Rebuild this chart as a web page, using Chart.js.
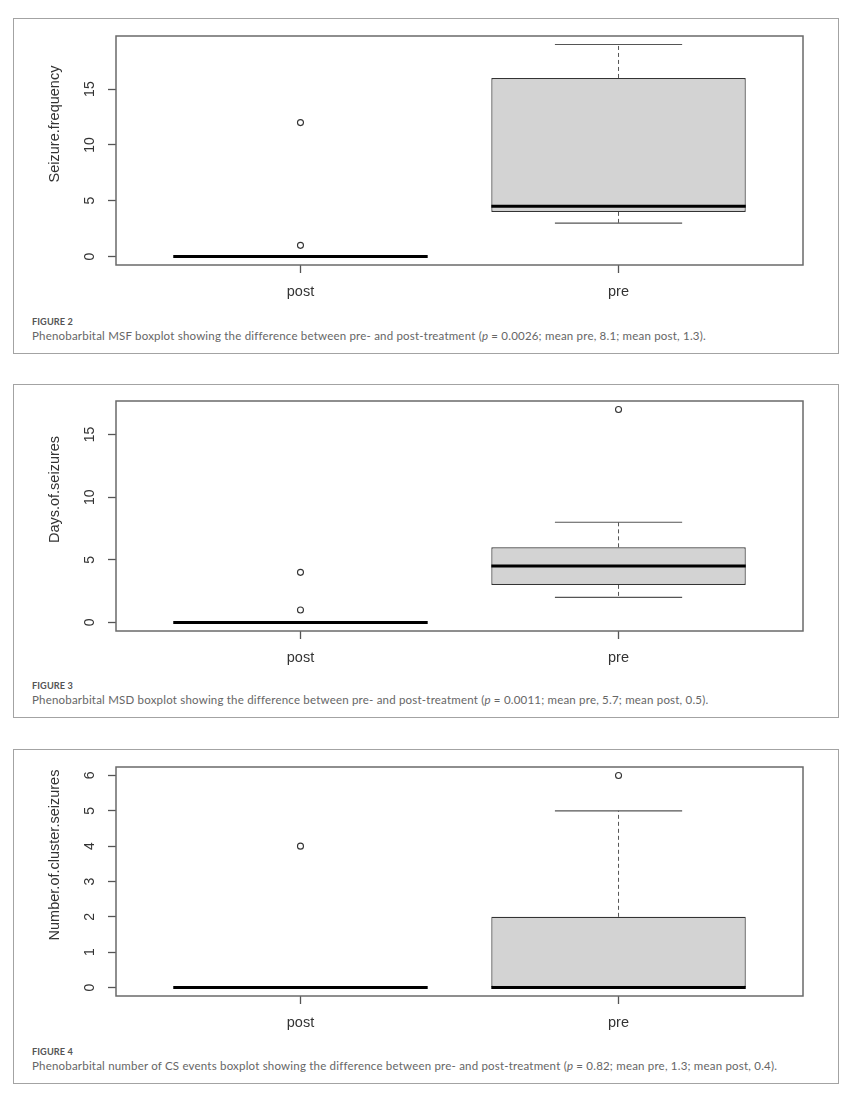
<!DOCTYPE html>
<html>
<head>
<meta charset="utf-8">
<script src="https://cdn.jsdelivr.net/npm/chart.js@4.4.1/dist/chart.umd.min.js"></script>
<style>
  html, body { margin: 0; padding: 0; background: #ffffff; }
  #page { position: relative; width: 853px; height: 1099px; overflow: hidden; }
  .frame { position: absolute; left: 13px; width: 826px; box-sizing: border-box; border: 1.5px solid #a3a3a3; }
  .cv { position: absolute; left: 0; width: 853px; }
  .fig { position: absolute; left: 32px; font-family: Lato, "Open Sans", sans-serif; font-weight: bold; font-size: 9.2px; line-height: 12px; color: #555; letter-spacing: 0.1px; }
  .cap { position: absolute; left: 32px; font-family: Lato, "Open Sans", sans-serif; font-size: 11.5px; line-height: 14px; color: #666; white-space: nowrap; letter-spacing: 0.2px; }
</style>
</head>
<body>
<div id="page">
  <div class="frame" style="top:18px;height:336px"></div>
  <div class="cv" style="top:20px;height:285px"><canvas id="c2"></canvas></div>
  <div class="fig" style="top:316px">FIGURE 2</div>
  <div class="cap" style="top:329px">Phenobarbital MSF boxplot showing the difference between pre- and post-treatment (<i>p</i> = 0.0026; mean pre, 8.1; mean post, 1.3).</div>

  <div class="frame" style="top:384px;height:334px"></div>
  <div class="cv" style="top:385px;height:286px"><canvas id="c3"></canvas></div>
  <div class="fig" style="top:680px">FIGURE 3</div>
  <div class="cap" style="top:693px">Phenobarbital MSD boxplot showing the difference between pre- and post-treatment (<i>p</i> = 0.0011; mean pre, 5.7; mean post, 0.5).</div>

  <div class="frame" style="top:749px;height:335px"></div>
  <div class="cv" style="top:751px;height:285px"><canvas id="c4"></canvas></div>
  <div class="fig" style="top:1046px">FIGURE 4</div>
  <div class="cap" style="top:1059px">Phenobarbital number of CS events boxplot showing the difference between pre- and post-treatment (<i>p</i> = 0.82; mean pre, 1.3; mean post, 0.4).</div>
</div>
<script>
// ---------------- DATA ----------------
const categories = ['post', 'pre'];

// Figure 2: Seizure frequency
const fig2Title = 'Seizure.frequency';
const fig2Min = [0, 3];
const fig2Q1 = [0, 4];
const fig2Median = [0, 4.5];
const fig2Q3 = [0, 16];
const fig2Max = [0, 19];
const fig2Outliers = [[1, 12], []];
const fig2Ticks = [0, 5, 10, 15];

// Figure 3: Days of seizures
const fig3Title = 'Days.of.seizures';
const fig3Min = [0, 2];
const fig3Q1 = [0, 3];
const fig3Median = [0, 4.5];
const fig3Q3 = [0, 6];
const fig3Max = [0, 8];
const fig3Outliers = [[1, 4], [17]];
const fig3Ticks = [0, 5, 10, 15];

// Figure 4: Number of cluster seizures
const fig4Title = 'Number.of.cluster.seizures';
const fig4Min = [0, 0];
const fig4Q1 = [0, 0];
const fig4Median = [0, 0];
const fig4Q3 = [0, 2];
const fig4Max = [0, 5];
const fig4Outliers = [[4], [6]];
const fig4Ticks = [0, 1, 2, 3, 4, 5, 6];

// ---------------- RENDERING ----------------
const FONT = '"Liberation Sans", Arial, sans-serif';
const BOX_HALF = 0.4;     // R boxwex 0.8
const CAP_HALF = 0.2;     // R staplewex 0.5 * box width

const framePlugin = {
  id: 'rframe',
  afterDatasetsDraw(chart, args, opts) {
    const ctx = chart.ctx, a = chart.chartArea;
    ctx.save();
    ctx.strokeStyle = '#6a6a6a';
    ctx.lineWidth = 1.5;
    ctx.strokeRect(a.left, a.top, a.right - a.left, a.bottom - a.top);
    ctx.restore();
  },
  afterDraw(chart, args, opts) {
    const ctx = chart.ctx, a = chart.chartArea, ys = chart.scales.y;
    ctx.save();
    ctx.fillStyle = '#333';
    ctx.textAlign = 'center';
    ctx.textBaseline = 'middle';
    // y tick labels, rotated like R (las = 0)
    ctx.font = '14px ' + FONT;
    ys.ticks.forEach(t => {
      ctx.save();
      ctx.translate(90, ys.getPixelForValue(t.value));
      ctx.rotate(-Math.PI / 2);
      ctx.fillText(String(t.value), 0, 0);
      ctx.restore();
    });
    // y axis title
    ctx.font = '14.5px ' + FONT;
    ctx.translate(55, (a.top + a.bottom) / 2 - 26.5);
    ctx.rotate(-Math.PI / 2);
    ctx.fillText(opts.title, 0, 0);
    ctx.restore();
  }
};

function makeBoxChart(id, title, mins, q1s, meds, q3s, maxs, outs, ticks) {
  const xs = categories.map((c, i) => i + 1);
  const all = [].concat(mins, maxs, ...outs);
  const lo = Math.min(...all), hi = Math.max(...all);
  const pad = (hi - lo) * 0.04;

  const datasets = [];
  // whiskers (dashed) and staples
  xs.forEach((x, i) => {
    datasets.push({
      type: 'line', order: 5,
      data: [{x: x, y: q3s[i]}, {x: x, y: maxs[i]}],
      borderColor: '#555', borderWidth: 1, borderDash: [4, 3], pointRadius: 0
    });
    datasets.push({
      type: 'line', order: 5,
      data: [{x: x, y: q1s[i]}, {x: x, y: mins[i]}],
      borderColor: '#555', borderWidth: 1, borderDash: [4, 3], pointRadius: 0
    });
    datasets.push({
      type: 'line', order: 5,
      data: [{x: x - CAP_HALF, y: maxs[i]}, {x: x + CAP_HALF, y: maxs[i]}],
      borderColor: '#555', borderWidth: 1.2, pointRadius: 0
    });
    datasets.push({
      type: 'line', order: 5,
      data: [{x: x - CAP_HALF, y: mins[i]}, {x: x + CAP_HALF, y: mins[i]}],
      borderColor: '#555', borderWidth: 1.2, pointRadius: 0
    });
  });
  // boxes (floating bars from Q1 to Q3)
  datasets.push({
    type: 'bar', order: 4,
    data: xs.map((x, i) => ({x: x, y: [q1s[i], q3s[i]]})),
    backgroundColor: '#d3d3d3', borderColor: '#333', borderWidth: 1.2,
    borderSkipped: false, categoryPercentage: 0.8, barPercentage: 1.0
  });
  // medians
  xs.forEach((x, i) => {
    datasets.push({
      type: 'line', order: 2,
      data: [{x: x - BOX_HALF, y: meds[i]}, {x: x + BOX_HALF, y: meds[i]}],
      borderColor: '#000', borderWidth: 3, pointRadius: 0
    });
  });
  // outliers
  datasets.push({
    type: 'scatter', order: 1,
    data: [].concat(...outs.map((o, i) => o.map(v => ({x: xs[i], y: v})))),
    pointStyle: 'circle', pointRadius: 3, pointBorderWidth: 1.1,
    pointBorderColor: '#333', pointBackgroundColor: 'rgba(0,0,0,0)', showLine: false
  });

  return new Chart(document.getElementById(id), {
    type: 'bar',
    data: { datasets },
    plugins: [framePlugin],
    options: {
      responsive: true,
      maintainAspectRatio: false,
      animation: false,
      events: [],
      layout: { padding: { top: 16, left: 0, right: 50, bottom: 0 } },
      plugins: {
        legend: { display: false },
        tooltip: { enabled: false },
        rframe: { title: title }
      },
      scales: {
        x: {
          type: 'linear', offset: false, min: 0.42, max: 2.58,
          afterBuildTicks: s => { s.ticks = xs.map(v => ({value: v})); },
          afterFit: s => { s.height = 40; },
          border: { display: false },
          grid: { display: true, offset: false, drawOnChartArea: false, drawTicks: true, tickLength: 8, tickColor: '#555', tickWidth: 1.3 },
          ticks: {
            padding: 10, maxRotation: 0, autoSkip: false, color: '#333',
            font: { family: FONT, size: 14.5 },
            callback: (v, idx) => categories[idx]
          }
        },
        y: {
          type: 'linear', min: lo - pad, max: hi + pad,
          afterBuildTicks: s => { s.ticks = ticks.map(v => ({value: v})); },
          afterFit: s => { s.width = 116; },
          border: { display: false },
          grid: { display: true, offset: false, drawOnChartArea: false, drawTicks: true, tickLength: 8, tickColor: '#555', tickWidth: 1.3 },
          ticks: { display: false }
        }
      }
    }
  });
}

makeBoxChart('c2', fig2Title, fig2Min, fig2Q1, fig2Median, fig2Q3, fig2Max, fig2Outliers, fig2Ticks);
makeBoxChart('c3', fig3Title, fig3Min, fig3Q1, fig3Median, fig3Q3, fig3Max, fig3Outliers, fig3Ticks);
makeBoxChart('c4', fig4Title, fig4Min, fig4Q1, fig4Median, fig4Q3, fig4Max, fig4Outliers, fig4Ticks);
</script>
</body>
</html>
